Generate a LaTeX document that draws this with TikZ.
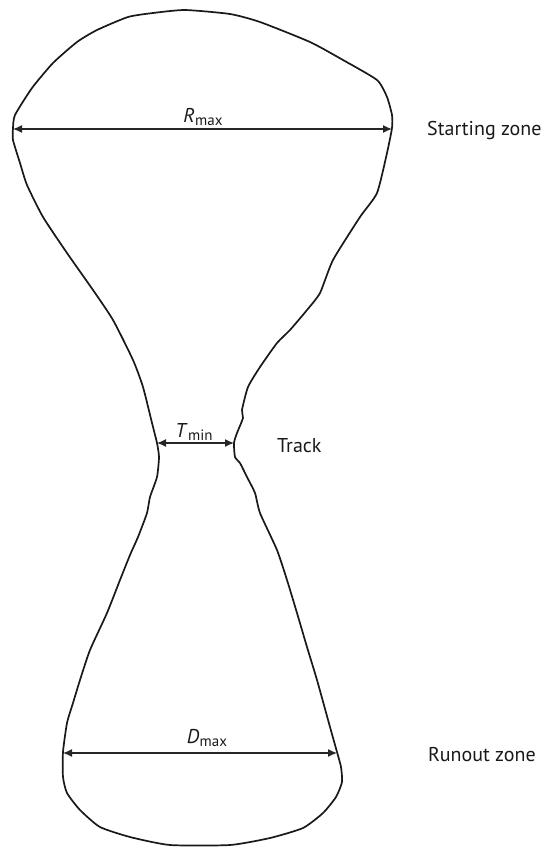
\documentclass[tikz,border=0pt]{standalone}
\usepackage{fontspec}
\setmainfont{PT Sans}
\usetikzlibrary{arrows.meta}
\newcommand{\dimlbl}[2]{\textit{#1}\kern0.3pt\raisebox{-0.3ex}{\fontsize{15}{15}\selectfont #2}}
\tikzset{
  outline/.style={line width=1.7pt, line join=round, draw=black!90},
  dimarrow/.style={line width=1.3pt, draw=black!85, {Latex[length=9pt,width=8pt]}-{Latex[length=9pt,width=8pt]}},
  zonelabel/.style={anchor=base west, inner sep=0pt, font=\fontsize{20}{20}\selectfont, text=black!90},
  dimlabel/.style={anchor=base, inner sep=0pt, font=\fontsize{20}{20}\selectfont, text=black!90}
}
\begin{document}
\begin{tikzpicture}[x=1pt,y=-1pt]
\useasboundingbox (0,0) rectangle (547,847);
\draw[outline] plot[smooth cycle, tension=0.35] coordinates {
(185,10) (230,14) (260,22) (310,42) (343,60) (377,80) (387,97) (392,115) (392,128)
(387,153) (377,193) (360,217) (333,260) (320,293) (307,310) (290,330) (277,343)
(260,367) (248,387) (242,410) (243,418) (237,433) (234,443) (235,457) (240,463)
(247,477) (255,493) (260,513) (277,550) (287,580) (297,613) (307,647) (317,680)
(330,727) (337,752) (341,767) (342,782) (336,797) (323,813) (303,828) (270,838)
(230,845) (170,845) (130,837) (100,827) (80,810) (67,793) (63,777) (63,752)
(67,723) (73,703) (80,680) (90,650) (107,613) (120,580) (130,555) (138,537)
(147,513) (150,497) (157,477) (159,457) (157,443) (152,423) (143,387) (133,360)
(113,320) (93,290) (67,253) (43,217) (27,185) (20,163) (13,140) (13,128)
(15,115) (32,88) (53,63) (77,42) (97,30) (128,17) (153,13)};
% dimension ends
\coordinate (rL) at (13,129);
\coordinate (rR) at (392,129);
\coordinate (tL) at (157,443);
\coordinate (tR) at (234,443);
\coordinate (dL) at (63,753);
\coordinate (dR) at (337,753);
\draw[dimarrow] (rL) -- (rR);
\draw[dimarrow] (tL) -- (tR);
\draw[dimarrow] (dL) -- (dR);
\node[dimlabel] (rmax) at (203,122) {\dimlbl{R}{max}};
\node[dimlabel] (tmin) at (194,437) {\dimlbl{T}{min}};
\node[dimlabel] (dmax) at (207,743) {\dimlbl{D}{max}};
\node[zonelabel] (start) at (427,135) {Starting zone};
\node[zonelabel] (track) at (277,452) {Track};
\node[zonelabel] (runout) at (428,761) {Runout zone};
\end{tikzpicture}
\end{document}
